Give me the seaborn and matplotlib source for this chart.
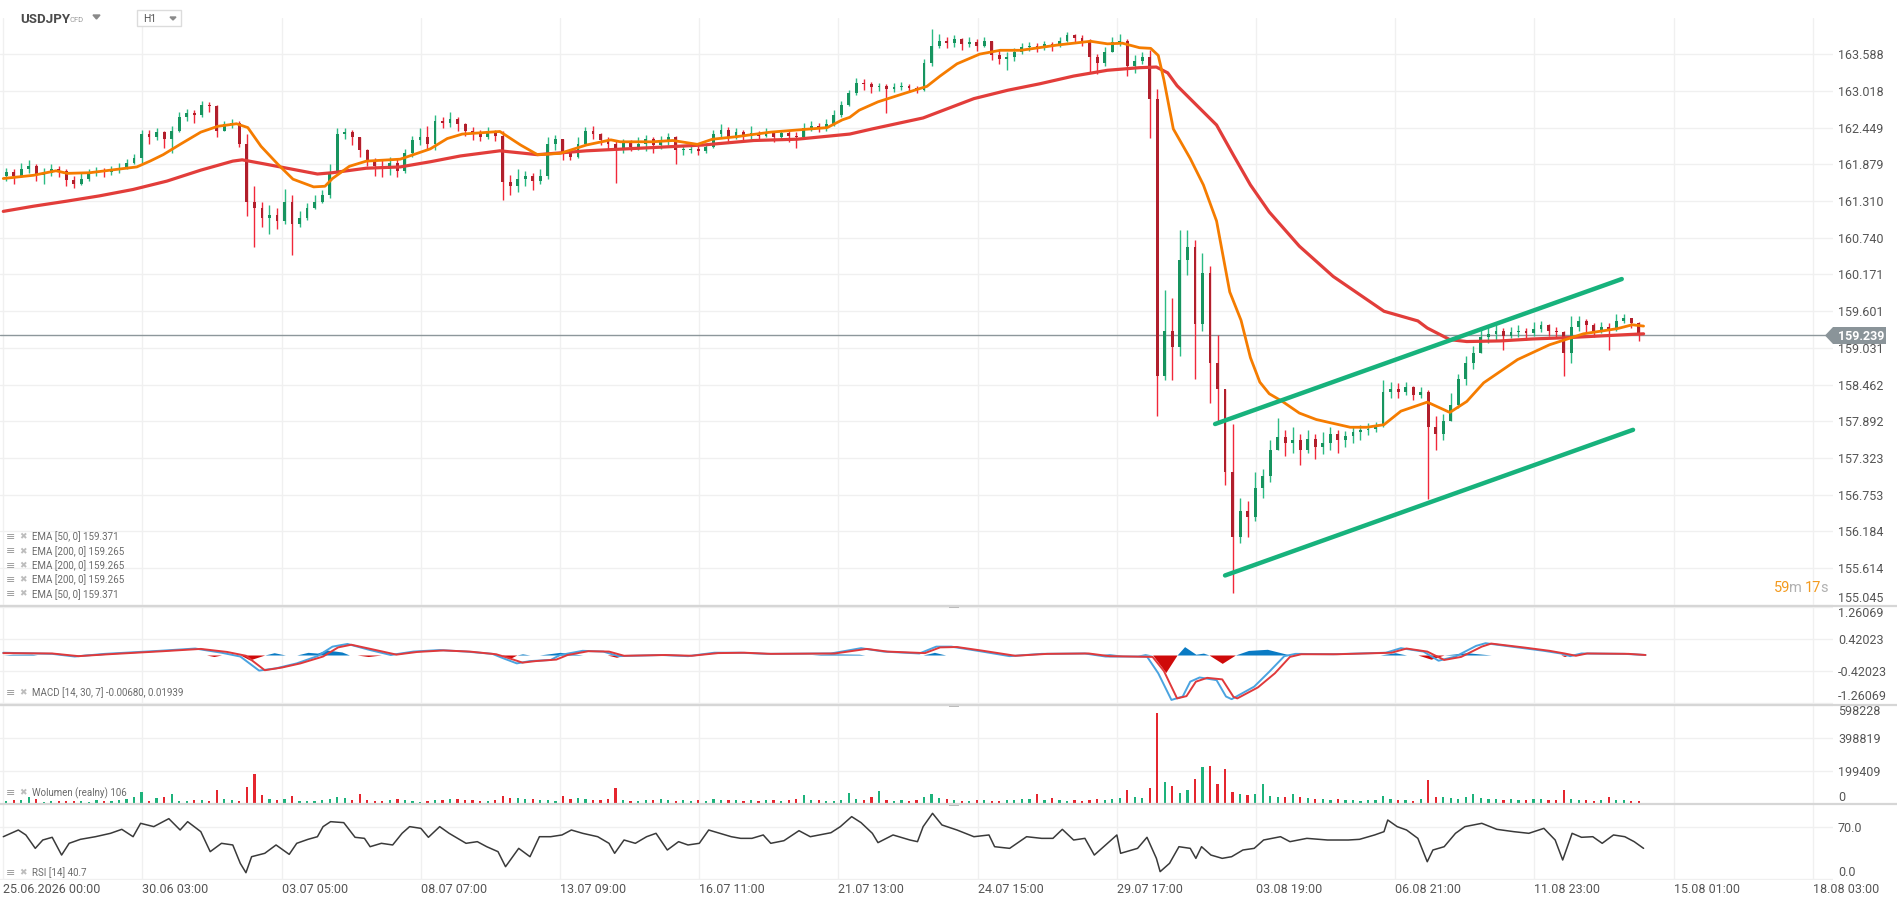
import numpy as np
import matplotlib
matplotlib.use("Agg")
import matplotlib.pyplot as plt
import seaborn as sns
from matplotlib.patches import Rectangle, Polygon
from matplotlib.lines import Line2D
from matplotlib.transforms import blended_transform_factory

# ================= data =================
# 4-hour candles, candle i covers trading hours 4*i .. 4*i+3
BAR_HOURS = 4
START_OPEN = 161.70

close = [
    161.76, 161.70, 161.80, 161.86, 161.72, 161.74, 161.80, 161.78, 161.64, 161.58,
    161.66, 161.74, 161.78, 161.76, 161.80, 161.82, 161.90, 161.98, 162.35, 162.30,
    162.38, 162.28, 162.40, 162.62, 162.68, 162.64, 162.80, 162.78, 162.40, 162.50,
    162.52, 162.20, 161.30, 161.20, 161.05, 161.10, 161.00, 161.30, 160.95, 161.05,
    161.20, 161.30, 161.40, 161.75, 162.35, 162.38, 162.30, 162.10, 161.92, 161.85,
    161.80, 161.90, 161.78, 162.05, 162.25, 162.30, 162.20, 162.55, 162.52, 162.58,
    162.50, 162.40, 162.36, 162.30, 162.38, 162.32, 161.60, 161.55, 161.65, 161.70,
    161.62, 161.70, 162.20, 162.28, 162.05, 162.00, 162.20, 162.40, 162.35, 162.25,
    162.20, 162.10, 162.22, 162.15, 162.20, 162.28, 162.18, 162.25, 162.30, 162.10,
    162.10, 162.12, 162.08, 162.15, 162.35, 162.42, 162.30, 162.38, 162.34, 162.36,
    162.32, 162.38, 162.30, 162.36, 162.32, 162.30, 162.45, 162.48, 162.44, 162.50,
    162.65, 162.80, 162.98, 163.15, 163.12, 163.08, 163.10, 163.05, 163.08, 163.10,
    163.06, 163.04, 163.45, 163.72, 163.80, 163.76, 163.82, 163.74, 163.78, 163.72,
    163.80, 163.58, 163.52, 163.55, 163.62, 163.70, 163.72, 163.68, 163.74, 163.72,
    163.80, 163.88, 163.84, 163.80, 163.55, 163.45, 163.62, 163.78, 163.80, 163.40,
    163.48, 163.55, 162.90, 158.60, 159.30, 159.05, 160.40, 160.60, 159.40, 160.20,
    158.80, 158.40, 157.10, 156.10, 156.50, 156.40, 156.85, 157.05, 157.45, 157.65,
    157.55, 157.60, 157.45, 157.62, 157.50, 157.55, 157.70, 157.60, 157.66, 157.72,
    157.75, 157.78, 157.82, 158.35, 158.40, 158.35, 158.42, 158.30, 158.35, 157.80,
    157.70, 157.90, 158.15, 158.55, 158.80, 158.95, 159.20, 159.25, 159.30, 159.22,
    159.28, 159.30, 159.26, 159.32, 159.38, 159.30, 159.28, 158.95, 159.35, 159.45,
    159.38, 159.30, 159.36, 159.32, 159.45, 159.50, 159.42, 159.24,
]
high = [
    161.82, 161.80, 161.90, 161.94, 161.88, 161.82, 161.88, 161.86, 161.80, 161.70,
    161.74, 161.80, 161.84, 161.82, 161.86, 161.90, 161.96, 162.04, 162.42, 162.42,
    162.44, 162.40, 162.48, 162.70, 162.74, 162.72, 162.86, 162.85, 162.80, 162.56,
    162.58, 162.56, 162.35, 161.55, 161.30, 161.25, 161.20, 161.50, 161.40, 161.15,
    161.28, 161.40, 161.48, 161.88, 162.45, 162.45, 162.42, 162.30, 162.12, 161.98,
    161.95, 162.00, 161.96, 162.12, 162.32, 162.45, 162.48, 162.64, 162.62, 162.70,
    162.62, 162.52, 162.46, 162.42, 162.46, 162.42, 162.40, 161.72, 161.80, 161.78,
    161.74, 161.80, 162.30, 162.34, 162.20, 162.10, 162.30, 162.46, 162.48, 162.36,
    162.30, 162.25, 162.28, 162.26, 162.30, 162.34, 162.30, 162.32, 162.36, 162.32,
    162.18, 162.18, 162.16, 162.20, 162.42, 162.50, 162.46, 162.44, 162.42, 162.48,
    162.40, 162.44, 162.40, 162.42, 162.40, 162.38, 162.52, 162.56, 162.52, 162.58,
    162.72, 162.86, 163.04, 163.22, 163.20, 163.16, 163.14, 163.12, 163.14, 163.16,
    163.12, 163.10, 163.52, 163.98, 163.90, 163.86, 163.88, 163.84, 163.86, 163.82,
    163.86, 163.80, 163.66, 163.62, 163.68, 163.76, 163.78, 163.76, 163.80, 163.78,
    163.86, 163.94, 163.90, 163.88, 163.82, 163.60, 163.70, 163.86, 163.90, 163.82,
    163.58, 163.62, 163.66, 163.05, 159.93, 159.80, 160.86, 160.86, 160.70, 160.51,
    160.30, 159.23, 158.40, 157.85, 156.70, 156.65, 157.10, 157.15, 157.60, 157.94,
    157.76, 157.80, 157.70, 157.76, 157.70, 157.72, 157.80, 157.76, 157.74, 157.82,
    157.84, 157.86, 157.88, 158.54, 158.50, 158.48, 158.50, 158.44, 158.42, 158.38,
    157.97, 158.00, 158.33, 158.62, 158.90, 159.06, 159.32, 159.36, 159.38, 159.34,
    159.36, 159.38, 159.34, 159.44, 159.45, 159.40, 159.36, 159.30, 159.52, 159.52,
    159.48, 159.42, 159.44, 159.42, 159.55, 159.56, 159.50, 159.44,
]
low = [
    161.62, 161.57, 161.68, 161.74, 161.62, 161.58, 161.70, 161.68, 161.55, 161.52,
    161.56, 161.62, 161.70, 161.68, 161.72, 161.74, 161.80, 161.88, 161.90, 162.20,
    162.25, 162.14, 162.06, 162.38, 162.56, 162.52, 162.62, 162.70, 162.30, 162.40,
    162.44, 162.15, 161.08, 160.60, 160.90, 160.80, 160.88, 160.95, 160.47, 160.90,
    161.02, 161.18, 161.28, 161.35, 161.75, 162.28, 162.18, 162.00, 161.85, 161.70,
    161.68, 161.72, 161.68, 161.75, 162.00, 162.18, 162.10, 162.10, 162.44, 162.46,
    162.40, 162.32, 162.26, 162.24, 162.28, 162.24, 161.32, 161.40, 161.45, 161.55,
    161.48, 161.58, 161.65, 162.10, 161.95, 161.95, 161.98, 162.22, 162.28, 162.18,
    162.12, 161.59, 162.05, 162.08, 162.10, 162.08, 162.05, 162.12, 162.18, 161.89,
    162.03, 162.05, 162.02, 162.06, 162.14, 162.30, 162.24, 162.28, 162.26, 162.28,
    162.26, 162.30, 162.22, 162.28, 162.22, 162.14, 162.30, 162.40, 162.38, 162.40,
    162.48, 162.62, 162.78, 162.96, 163.04, 162.98, 163.02, 162.67, 163.00, 163.04,
    163.00, 162.98, 163.02, 163.40, 163.68, 163.68, 163.70, 163.66, 163.70, 163.64,
    163.70, 163.50, 163.44, 163.34, 163.48, 163.60, 163.64, 163.62, 163.66, 163.64,
    163.70, 163.78, 163.76, 163.72, 163.30, 163.28, 163.40, 163.66, 163.72, 163.25,
    163.30, 163.44, 162.29, 157.97, 158.53, 158.53, 158.90, 160.16, 158.55, 159.30,
    158.18, 157.86, 156.90, 155.23, 156.00, 156.10, 156.35, 156.70, 156.95, 157.45,
    157.35, 157.40, 157.22, 157.40, 157.30, 157.38, 157.45, 157.40, 157.50, 157.55,
    157.60, 157.68, 157.72, 157.80, 158.25, 158.26, 158.30, 158.22, 158.26, 156.68,
    157.45, 157.60, 157.92, 158.10, 158.45, 158.70, 158.95, 159.10, 159.16, 159.00,
    159.18, 159.20, 159.16, 159.22, 159.28, 159.22, 159.18, 158.59, 158.80, 159.30,
    159.28, 159.20, 159.26, 159.00, 159.30, 159.42, 159.34, 159.14,
]
# volume per candle, thousands
volume_k = [
    18, 22, 25, 40, 30, 15, 18, 20, 16, 20,
    18, 15, 22, 18, 20, 25, 30, 40, 73, 20,
    35, 45, 60, 20, 18, 25, 22, 16, 83, 30,
    25, 20, 104, 179, 56, 30, 25, 28, 50, 18,
    20, 16, 22, 30, 40, 35, 25, 60, 22, 20,
    18, 25, 30, 22, 18, 15, 20, 25, 22, 30,
    28, 25, 22, 18, 20, 25, 48, 35, 38, 30,
    28, 22, 25, 20, 48, 30, 35, 28, 25, 22,
    30, 97, 25, 20, 18, 22, 25, 28, 22, 20,
    25, 18, 22, 20, 28, 25, 22, 25, 20, 22,
    18, 25, 22, 20, 25, 28, 54, 25, 22, 18,
    20, 25, 69, 30, 25, 40, 77, 25, 20, 22,
    18, 25, 44, 60, 35, 30, 22, 18, 20, 25,
    22, 18, 20, 22, 25, 28, 30, 60, 25, 35,
    22, 20, 25, 18, 22, 28, 25, 30, 35, 87,
    40, 35, 99, 548, 133, 110, 69, 83, 153, 222,
    232, 123, 212, 70, 60, 55, 63, 119, 50, 45,
    40, 63, 45, 35, 30, 28, 25, 30, 22, 25,
    20, 22, 25, 48, 30, 25, 22, 20, 28, 147,
    45, 40, 35, 30, 40, 58, 35, 30, 28, 25,
    30, 22, 25, 30, 28, 25, 22, 83, 30, 25,
    22, 20, 25, 44, 25, 22, 18, 20,
]

# EMA lines (hour index, price)
ema50_h = [0, 16, 28, 34, 46, 57, 71, 78, 85, 94, 105, 114, 124, 130, 137, 146, 154, 165, 171, 175,
           184, 193, 211, 227, 236, 244, 264, 275, 284, 296, 310, 323, 328, 345, 356, 369, 377, 390, 408, 425,
           438, 446, 450, 455, 465, 480, 491, 498, 507, 519, 530, 541, 560, 578, 587, 595, 604, 610, 614, 617,
           622, 631, 638, 645, 652, 658, 663, 668, 673, 680, 689, 698, 716, 725, 734, 743, 757, 769, 778, 787,
           805, 822, 840, 858, 866, 872]
ema50_v = [161.66, 161.71, 161.78, 161.74, 161.75, 161.79, 161.84, 161.93, 162.03, 162.19,
           162.38, 162.47, 162.51, 162.45, 162.16, 161.88, 161.65, 161.53, 161.54, 161.66,
           161.85, 161.93, 161.96, 162.12, 162.28, 162.35, 162.39, 162.18, 162.03, 162.05,
           162.18, 162.26, 162.23, 162.23, 162.25, 162.19, 162.27, 162.31, 162.38, 162.42,
           162.45, 162.57, 162.61, 162.72, 162.85, 162.99, 163.09, 163.25, 163.44, 163.59,
           163.65, 163.65, 163.73, 163.79, 163.75, 163.76, 163.69, 163.68, 163.57, 163.19,
           162.43, 161.97, 161.56, 161.00, 159.90, 159.46, 158.88, 158.50, 158.32, 158.20,
           158.02, 157.92, 157.80, 157.80, 157.84, 158.05, 158.19, 158.03, 158.20, 158.49,
           158.85, 159.08, 159.25, 159.33, 159.39, 159.37]
ema200_h = [0, 16, 34, 51, 69, 87, 105, 122, 127, 140, 158, 167, 175, 193, 211, 227, 243, 264, 284, 310,
            345, 372, 399, 422, 450, 462, 489, 516, 534, 551, 569, 587, 604, 613, 619, 624, 635, 645, 654, 663,
            673, 689, 707, 725, 734, 752, 757, 769, 778, 796, 813, 831, 858, 872]
ema200_v = [161.15, 161.23, 161.31, 161.39, 161.49, 161.62, 161.79, 161.93, 161.95, 161.88,
            161.78, 161.73, 161.75, 161.82, 161.84, 161.92, 162.01, 162.09, 162.03, 162.09,
            162.14, 162.18, 162.25, 162.27, 162.35, 162.43, 162.60, 162.90, 163.03, 163.13,
            163.25, 163.34, 163.38, 163.39, 163.30, 163.10, 162.78, 162.49, 162.02, 161.56,
            161.14, 160.61, 160.14, 159.78, 159.60, 159.45, 159.34, 159.16, 159.13, 159.14,
            159.17, 159.19, 159.23, 159.25]

# drawn channel (hour, price)
upper_h = [644.2, 860.4]
upper_v = [157.85, 160.10]
lower_h = [649.5, 866.4]
lower_v = [155.50, 157.76]
last_price = 159.239

# MACD [14, 30, 7]
macd_h = [0, 26, 38, 54, 83, 102, 116, 126, 136, 145, 156, 167, 175, 183, 195, 206, 218, 232, 246, 260,
          266, 273, 280, 291, 296, 308, 319, 327, 350, 364, 378, 392, 406, 440, 456, 468, 487, 496, 504, 518,
          535, 552, 575, 586, 608, 614, 621, 627, 631, 636, 645, 650, 653, 665, 673, 681, 687, 707, 735, 743,
          755, 763, 772, 783, 788, 805, 819, 828, 833, 839, 862, 873]
macd_v = [0.06, 0.03, -0.04, 0.03, 0.11, 0.17, 0.06, -0.04, -0.41, -0.35,
          -0.22, -0.03, 0.22, 0.29, 0.13, 0.00, 0.09, 0.13, 0.09, 0.03,
          -0.09, -0.22, -0.16, -0.13, 0.00, 0.11, 0.09, -0.03, 0.00, -0.03,
          0.06, 0.06, 0.03, 0.04, 0.18, 0.09, 0.04, 0.22, 0.22, 0.11,
          -0.03, 0.03, 0.04, -0.04, -0.04, -0.48, -1.18, -1.09, -0.70, -0.59,
          -0.66, -1.09, -1.16, -0.83, -0.44, -0.03, 0.03, 0.02, 0.06, 0.18,
          0.09, -0.15, -0.04, 0.24, 0.31, 0.20, 0.11, 0.04, -0.03, 0.04,
          0.03, 0.00]
signal_h = [0, 26, 40, 56, 85, 105, 119, 129, 139, 148, 158, 170, 178, 185, 198, 209, 220, 234, 248, 262,
            268, 276, 283, 294, 300, 311, 322, 330, 352, 366, 380, 394, 408, 442, 459, 470, 490, 498, 507, 521,
            538, 555, 577, 588, 611, 617, 624, 629, 634, 640, 648, 654, 656, 667, 676, 684, 690, 709, 738, 746,
            757, 766, 775, 786, 791, 808, 822, 830, 836, 842, 864, 873]
signal_v = [0.05, 0.04, -0.03, 0.02, 0.10, 0.16, 0.08, -0.02, -0.40, -0.33,
            -0.22, -0.04, 0.20, 0.27, 0.13, 0.01, 0.08, 0.12, 0.09, 0.02,
            -0.07, -0.20, -0.16, -0.12, 0.00, 0.10, 0.09, -0.02, 0.00, -0.02,
            0.05, 0.06, 0.03, 0.04, 0.16, 0.09, 0.05, 0.20, 0.21, 0.11,
            -0.02, 0.03, 0.04, -0.03, -0.05, -0.42, -1.14, -1.08, -0.70, -0.60,
            -0.64, -1.10, -1.14, -0.85, -0.48, -0.05, 0.02, 0.02, 0.06, 0.17,
            0.09, -0.13, -0.05, 0.22, 0.30, 0.20, 0.11, 0.04, -0.02, 0.04,
            0.03, 0.00]
hist_h = [0, 5, 15, 18, 36, 45, 54, 108, 112, 116, 126, 131, 139, 144, 150, 156, 162, 167, 172, 180,
          184, 188, 194, 201, 265, 269, 273, 276, 280, 285, 296, 308, 321, 326, 330, 430, 440, 455, 458, 489,
          495, 501, 580, 588, 595, 603, 607, 611, 618, 624, 628, 634, 638, 641, 648, 655, 662, 672, 684, 732,
          740, 746, 752, 759, 766, 778, 791, 828, 830, 832, 873]
hist_v = [0, 0.02, 0.02, 0, 0, 0.02, 0, 0, -0.04, 0,
          0, -0.13, 0, 0.06, 0, 0, 0.07, 0.05, 0.13, 0.08,
          0, 0, -0.04, 0, 0, -0.10, 0, 0.03, 0, 0,
          0.07, 0, 0, -0.06, 0, 0, 0.03, 0.02, 0, 0,
          0.07, 0, 0, 0.03, 0, 0, 0.03, 0, -0.46, 0,
          0.22, 0.02, 0.05, 0, -0.22, 0, 0.12, 0.15, 0, 0,
          0.06, 0, 0, -0.11, 0, 0.06, 0, 0, -0.04, 0,
          0]

# RSI [14]
rsi_h = [0, 4, 8, 12, 17, 21, 26, 31, 35, 41, 49, 57, 63, 69, 73, 80, 88, 94, 98, 105,
         110, 116, 122, 126, 129, 132, 139, 145, 152, 156, 162, 167, 170, 174, 181, 187, 192, 195, 201, 207,
         212, 216, 222, 226, 232, 237, 246, 252, 257, 263, 267, 274, 280, 285, 291, 297, 302, 308, 316, 322,
         325, 330, 336, 342, 347, 353, 359, 364, 370, 375, 381, 387, 392, 398, 404, 408, 415, 423, 429, 440,
         445, 451, 456, 462, 465, 473, 482, 486, 489, 494, 499, 507, 516, 524, 527, 535, 544, 552, 558, 563,
         569, 575, 580, 586, 592, 594, 603, 608, 613, 615, 620, 625, 631, 634, 637, 642, 648, 653, 659, 665,
         670, 679, 684, 693, 704, 715, 721, 729, 734, 736, 741, 746, 752, 757, 760, 766, 772, 777, 786, 794,
         803, 811, 819, 825, 829, 834, 839, 845, 850, 856, 862, 867, 872]
rsi_v = [56.7, 61.2, 65.6, 59.0, 41.2, 52.3, 55.9, 32.3, 47.9, 53.2,
         56.7, 61.2, 66.5, 56.7, 74.5, 70.1, 80.7, 65.6, 76.7, 63.4,
         36.8, 47.9, 45.7, 21.2, 8.8, 30.1, 34.6, 45.7, 33.2, 47.9,
         53.2, 56.7, 70.1, 76.7, 75.4, 55.9, 54.5, 43.4, 47.9, 45.7,
         61.2, 70.1, 67.8, 55.9, 70.1, 61.2, 47.9, 50.1, 43.4, 36.8,
         16.8, 41.2, 30.1, 56.7, 56.7, 59.0, 65.6, 61.2, 56.7, 47.9,
         34.6, 52.3, 47.9, 56.7, 61.2, 39.0, 50.1, 45.7, 47.9, 65.6,
         61.2, 56.7, 54.5, 54.5, 59.0, 47.9, 51.4, 64.7, 56.7, 62.0,
         70.1, 83.4, 75.4, 61.2, 48.8, 59.0, 52.3, 50.1, 70.1, 87.8,
         72.3, 65.6, 56.7, 59.0, 43.4, 41.2, 56.7, 54.5, 54.5, 66.5,
         52.3, 54.5, 32.3, 45.7, 59.0, 34.6, 41.2, 55.9, 27.9, 10.2,
         21.3, 43.4, 41.2, 27.9, 43.4, 32.3, 27.9, 30.1, 39.0, 41.2,
         52.3, 56.7, 50.1, 54.5, 52.3, 52.3, 53.2, 59.0, 63.4, 78.9,
         70.1, 65.6, 54.5, 23.4, 39.0, 43.4, 61.2, 70.1, 74.5, 66.5,
         63.4, 61.2, 67.8, 52.3, 25.7, 61.2, 55.9, 56.7, 47.9, 59.0,
         56.7, 50.1, 41.2]

# axis labels
price_ticks = [163.588, 163.018, 162.449, 161.879, 161.310, 160.740, 160.171, 159.601,
               159.031, 158.462, 157.892, 157.323, 156.753, 156.184, 155.614, 155.045]
macd_ticks = [1.26069, 0.42023, -0.42023, -1.26069]
vol_ticks = [598228, 398819, 199409, 0]
rsi_ticks = [70.0, 0.0]
date_labels = ["25.06.2026 00:00", "30.06 03:00", "03.07 05:00", "08.07 07:00", "13.07 09:00",
               "16.07 11:00", "21.07 13:00", "24.07 15:00", "29.07 17:00", "03.08 19:00",
               "06.08 21:00", "11.08 23:00", "15.08 01:00", "18.08 03:00"]
date_hours = [0, 74, 148, 222, 296, 370, 444, 518, 592, 666, 740, 814, 888, 962]

ema_legend = ["EMA [50, 0] 159.371", "EMA [200, 0] 159.265", "EMA [200, 0] 159.265",
              "EMA [200, 0] 159.265", "EMA [50, 0] 159.371"]
macd_legend = "MACD [14, 30, 7] -0.00680, 0.01939"
vol_legend = "Wolumen (realny) 106"
rsi_legend = "RSI [14] 40.7"

# ================= style =================
W, H = 1897, 906
PLOT_RIGHT = 1833
GRID = "#f0f0f0"
TXT = "#555555"
UP_BODY, DN_BODY = "#17945f", "#b11f2c"
UP_WICK, DN_WICK = "#2bbb84", "#f1283a"

sns.set_theme(style="white")
plt.rcParams["font.family"] = ["Roboto", "DejaVu Sans"]


def fx(px):
    return px / W


def fy(py):
    return 1 - py / H


fig = plt.figure(figsize=(W / 100, H / 100), dpi=100)
fig.patch.set_facecolor("white")


def panel(top, bottom):
    ax = fig.add_axes([0, fy(bottom), fx(PLOT_RIGHT), (bottom - top) / H])
    ax.set_facecolor("white")
    for s in ax.spines.values():
        s.set_visible(False)
    ax.set_xticks(date_hours)
    ax.grid(True, color=GRID, lw=1)
    ax.set_axisbelow(True)
    ax.tick_params(length=0, labelbottom=False, labelleft=False)
    return ax


def right_labels(ax, ticks, fmt, top_edge=None, bottom_edge=None):
    ax.set_yticks(ticks)
    tr = blended_transform_factory(fig.transFigure, ax.transData)
    for v in ticks:
        va = "center_baseline"
        if v == top_edge:
            va = "top"
        elif v == bottom_edge:
            va = "bottom"
        ax.text(fx(1838), v, fmt(v), transform=tr, ha="left", va=va,
                fontsize=9, color=TXT, clip_on=False)


ax_p = panel(18, 606)
ax_m = panel(606, 705)
ax_v = panel(705, 804)
ax_r = panel(804, 880)

c = np.array(close)
o = np.r_[START_OPEN, c[:-1]]
hi = np.maximum(np.array(high), np.maximum(o, c))
lo = np.minimum(np.array(low), np.minimum(o, c))
t = np.arange(len(c)) * BAR_HOURS + 1.5
up = c >= o

# ---- price panel ----
ax_p.axhline(last_price, color="#8d979b", lw=1, zorder=1)
ax_p.vlines(t, lo, hi, colors=np.where(up, UP_WICK, DN_WICK), lw=1, zorder=2)
ax_p.bar(t, np.maximum(np.abs(c - o), 0.012), bottom=np.minimum(o, c), width=1.5,
         color=np.where(up, UP_BODY, DN_BODY), lw=0, zorder=3)
sns.lineplot(x=ema200_h, y=ema200_v, ax=ax_p, color="#e23d3a", lw=2.3, sort=False,
             estimator=None, zorder=4)
sns.lineplot(x=ema50_h, y=ema50_v, ax=ax_p, color="#f57c00", lw=2.0, sort=False,
             estimator=None, zorder=5)
for hh, vv in ((upper_h, upper_v), (lower_h, lower_v)):
    ax_p.plot(hh, vv, color="#17b27c", lw=3.2, solid_capstyle="round", zorder=6)
ax_p.set_xlim(-1.75, 972.7)
ax_p.set_ylim(155.026, 164.151)
right_labels(ax_p, price_ticks, lambda v: f"{v:.3f}", bottom_edge=155.045)

# ---- MACD ----
hv = np.array(hist_v)
ax_m.fill_between(hist_h, np.maximum(hv, 0), 0, color="#0a7bc4", lw=0, zorder=2)
ax_m.fill_between(hist_h, np.minimum(hv, 0), 0, color="#cf0a0a", lw=0, zorder=2)
sns.lineplot(x=macd_h, y=macd_v, ax=ax_m, color="#4aa3e0", lw=1.4, sort=False,
             estimator=None, zorder=3)
sns.lineplot(x=signal_h, y=signal_v, ax=ax_m, color="#e0393b", lw=1.4, sort=False,
             estimator=None, zorder=4)
ax_m.set_xlim(-1.75, 972.7)
ax_m.set_ylim(-1.313, 1.287)
right_labels(ax_m, macd_ticks, lambda v: f"{v:.5f}", top_edge=1.26069, bottom_edge=-1.26069)

# ---- volume ----
ax_v.bar(t, np.array(volume_k) * 1000, width=1.2, color=np.where(up, "#1db27b", "#e5262f"),
         lw=0, zorder=2)
ax_v.set_xlim(-1.75, 972.7)
ax_v.set_ylim(0, 598228)
right_labels(ax_v, vol_ticks, lambda v: f"{v:d}", top_edge=598228, bottom_edge=0)

# ---- RSI ----
sns.lineplot(x=rsi_h, y=rsi_v, ax=ax_r, color="#3a3a3a", lw=1.1, sort=False,
             estimator=None, zorder=3)
ax_r.set_xlim(-1.75, 972.7)
ax_r.set_ylim(-0.9, 100.2)
right_labels(ax_r, rsi_ticks, lambda v: f"{v:.1f}", bottom_edge=0.0)
ax_r.set_xticklabels(date_labels, ha="left", fontsize=9, color=TXT)
ax_r.tick_params(labelbottom=True, pad=2)

for a in (ax_p, ax_m, ax_v, ax_r):
    a.set_xlabel("")
    a.set_ylabel("")

# ---- panel separators ----
for yy in (606, 705, 804):
    fig.add_artist(Line2D([0, 1], [fy(yy), fy(yy)], transform=fig.transFigure,
                          color="#d6d6d6", lw=1.6))
    fig.add_artist(Rectangle((fx(949), fy(yy + 1.5)), 10 / W, 3 / H, transform=fig.transFigure,
                             color="#b9b9b9", lw=0))

# ---- current price tag ----
tag = [(1825, 335.5), (1833, 327), (1886, 327), (1886, 344), (1833, 344)]
fig.add_artist(Polygon([(fx(x), fy(y)) for x, y in tag], closed=True, transform=fig.transFigure,
                       facecolor="#8a9499", edgecolor="none"))
fig.text(fx(1838), fy(335.5), f"{last_price:.3f}", ha="left", va="center_baseline",
         fontsize=9, color="white", fontweight="bold")

# ---- countdown ----
for xx, s, col in ((1774, "59", "#f39a1e"), (1789, "m", "#b0b0b0"),
                   (1805, "17", "#f39a1e"), (1820, "s", "#b0b0b0")):
    fig.text(fx(xx), fy(586), s, ha="left", va="center_baseline", fontsize=10.5, color=col)

# ---- header ----
fig.text(fx(20), fy(18), "USDJPY", ha="left", va="center_baseline", fontsize=9.5,
         fontweight="bold", color="#4b4b4b")
fig.text(fx(69), fy(19), "CFD", ha="left", va="center_baseline", fontsize=5.5, color="#9a9a9a")
fig.add_artist(Polygon([(fx(93), fy(15)), (fx(100), fy(15)), (fx(96.5), fy(19))],
                       transform=fig.transFigure, color="#8a8a8a"))
fig.add_artist(Rectangle((fx(137), fy(26)), 44 / W, 16 / H, transform=fig.transFigure,
                         facecolor="white", edgecolor="#dcdcdc", lw=1))
fig.text(fx(143), fy(18.5), "H1", ha="left", va="center_baseline", fontsize=7.5, color="#555555")
fig.add_artist(Polygon([(fx(170), fy(17)), (fx(176), fy(17)), (fx(173), fy(20))],
                       transform=fig.transFigure, color="#8a8a8a"))


# ---- indicator captions ----
def caption(y, s):
    fig.text(fx(6), fy(y), "\u2261", ha="left", va="center", fontsize=8, color="#9a9a9a",
             family=["DejaVu Sans"])
    fig.text(fx(19), fy(y), "\u2716", ha="left", va="center", fontsize=6.5, color="#bdbdbd",
             family=["DejaVu Sans"])
    fig.text(fx(32), fy(y), s, ha="left", va="center", fontsize=7, color="#6a6a6a")


for k, s in enumerate(ema_legend):
    caption(537 + k * 14.3, s)
caption(693, macd_legend)
caption(793, vol_legend)
caption(873, rsi_legend)

fig.savefig("out.png", dpi=100, facecolor="white")
